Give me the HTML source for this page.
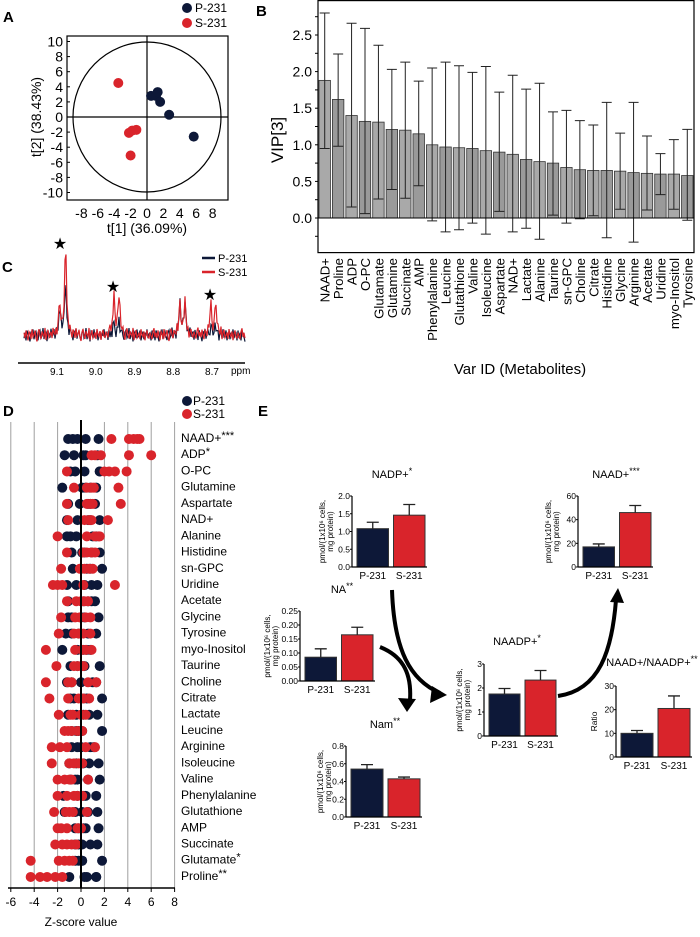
<!DOCTYPE html>
<html><head><meta charset="utf-8"><style>
html,body{margin:0;padding:0;background:#fff;width:700px;height:937px;overflow:hidden}
svg{display:block;font-family:"Liberation Sans",Arial,sans-serif}
</style></head><body>
<svg id="fig" width="700" height="937" viewBox="0 0 700 937" xmlns="http://www.w3.org/2000/svg">
<g id="gA"></g>
<g id="gB"></g>
<g id="gC"></g>
<g id="gD"></g>
<g id="gE"></g>
</svg>
<script>
// ---------- DATA ----------
// Panel A scores
const pcaP_t1 = [0.5, 1.1, 1.3, 1.6, 2.7, 5.7];
const pcaP_t2 = [2.8, 2.8, 3.3, 2.0, 0.3, -2.6];
const pcaS_t1 = [-3.5, -2.2, -1.8, -1.3, -2.0];
const pcaS_t2 = [4.5, -2.1, -1.8, -1.7, -5.1];
const pcaTicks = [-10,-8,-6,-4,-2,0,2,4,6,8,10];
const pcaXTicks = [-8,-6,-4,-2,0,2,4,6,8];
// Panel B VIP
const vipNames = ["NAAD+","Proline","ADP","O-PC","Glutamate","Glutamine","Succinate","AMP","Phenylalanine","Leucine","Glutathione","Valine","Isoleucine","Aspartate","NAD+","Lactate","Alanine","Taurine","sn-GPC","Choline","Citrate","Histidine","Glycine","Arginine","Acetate","Uridine","myo-Inositol","Tyrosine"];
const vipValues = [1.88,1.62,1.40,1.32,1.31,1.21,1.20,1.15,1.00,0.97,0.96,0.95,0.92,0.90,0.87,0.80,0.77,0.75,0.69,0.66,0.65,0.65,0.64,0.62,0.61,0.60,0.60,0.58];
const vipLow = [0.95,0.98,0.15,0.06,0.26,0.39,0.27,0.44,-0.04,-0.19,-0.16,-0.07,-0.22,0.09,-0.19,-0.14,-0.29,0.04,-0.07,-0.01,0.03,-0.27,0.12,-0.33,0.11,0.32,0.12,-0.03];
const vipHigh = [2.80,2.24,2.66,2.59,2.36,2.03,2.13,1.87,2.05,2.13,2.08,1.99,2.07,1.72,1.95,1.76,1.84,1.45,1.47,1.33,1.27,1.58,1.16,1.58,1.12,0.88,1.07,1.21];
const vipTicks = [0.0,0.5,1.0,1.5,2.0,2.5];
// Panel C spectrum peaks
const peakPpm = [9.093, 9.078, 8.953, 8.940, 8.783, 8.770, 8.703, 8.690];
const peakS = [30, 85, 38, 40, 30, 32, 30, 30];
const peakP = [24, 52, 12, 12, 30, 32, 8, 8];
const noiseS = [2,-3,4,-1,-5,3,1,-4,5,-2,0,4,-3,-6,2,5,-1,-4,3,0,-2,6,-5,1,4,-3,-1,2,-4,5,0,-2,3,-5,1,4,-2,-3,2,-1,-4,3,6,-2];
const noiseP = [-3,2,-5,4,1,-2,-6,3,0,5,-4,1,3,-2,-5,2,4,-3,-1,6,-4,0,2,-6,3,1,-3,5,-2,-1,4,-5,0,3,-4,2,-1,5,-3,1,2,-5,4];
const ppmTicks = [9.1, 9.0, 8.9, 8.8, 8.7];
// Panel D z-scores
const zNames = ["NAAD+","ADP","O-PC","Glutamine","Aspartate","NAD+","Alanine","Histidine","sn-GPC","Uridine","Acetate","Glycine","Tyrosine","myo-Inositol","Taurine","Choline","Citrate","Lactate","Leucine","Arginine","Isoleucine","Valine","Phenylalanine","Glutathione","AMP","Succinate","Glutamate","Proline"];
const zStars = ["***","*","","","","","","","","","","","","","","","","","","","","","","","","","*","**"];
const zP = [[-1.1,-0.7,-0.3,0.4,1.5],[-1.4,-0.6,0.2,0.4,1.4],[-0.9,-0.5,0.3,1.6,1.6],[-1.6,0.1,0.4,0.8,1.3],[-1.1,-0.1,0.6,0.8,1.2],[-1.2,-0.3,0.6,0.8,1.6],[-1.2,-0.9,-0.4,1.0,1.3],[-0.8,0.1,0.3,0.9,1.6],[-0.7,0.0,0.5,0.8,1.8],[-1.2,-0.4,0.3,0.9,1.4],[-1.1,0.2,0.6,0.9,1.2],[-1.1,-0.8,0.0,0.3,1.5],[-1.3,-0.8,-0.2,0.6,1.3],[-1.6,-0.3,0.2,0.5,0.8],[-0.9,-0.3,0.1,0.3,1.6],[-1.2,-0.8,0.0,1.0,1.3],[-0.9,-0.6,0.2,0.5,1.8],[-1.1,-0.4,0.2,0.7,1.4],[-0.8,-0.4,-0.2,0.1,1.8],[-0.8,-0.3,0.0,0.8,1.1],[-1.0,-0.4,0.2,0.7,1.5],[-0.9,-0.5,-0.3,0.6,1.6],[-1.5,-0.3,0.2,0.4,1.3],[-1.4,-0.5,0.1,0.6,1.4],[-0.5,-0.2,0.2,0.4,1.5],[-0.5,-0.2,0.1,0.8,1.4],[-0.5,-0.2,0.1,0.1,1.8],[-1.0,0.3,0.5,1.3,1.3]];
const zS = [[2.6,4.1,4.5,4.8,5.0],[0.9,1.2,1.7,4.1,6.0],[-1.2,2.0,2.4,2.9,3.9],[-0.6,0.5,0.9,1.1,3.2],[-1.2,0.5,0.8,1.0,3.4],[-1.1,0.3,0.7,0.9,2.3],[-2.0,0.5,1.2,1.5,1.6],[-1.2,0.2,0.5,0.9,1.2],[-1.7,-0.1,0.3,0.7,1.0],[-2.4,-2.0,-1.6,0.2,2.9],[-1.2,-0.4,0.0,0.3,0.6],[-1.7,-0.5,-0.1,0.4,0.8],[-1.9,-0.6,-0.2,0.2,0.8],[-3.0,-0.5,0.1,0.4,0.9],[-2.1,-0.6,-0.3,0.0,0.2],[-3.0,-1.1,-0.8,0.6,1.3],[-2.7,-1.1,-0.2,0.2,0.7],[-1.9,-0.9,-0.7,0.0,0.4],[-1.4,-1.1,-0.8,-0.3,0.1],[-2.5,-1.8,-1.2,0.4,1.2],[-2.5,-1.0,-0.6,-0.2,0.1],[-2.0,-1.4,-1.0,-0.8,0.6],[-2.0,-1.2,-0.6,-0.3,0.1],[-2.3,-1.3,-1.0,-0.7,0.5],[-2.0,-1.7,-1.2,-0.3,0.0],[-2.2,-1.6,-1.2,-0.8,-0.4],[-4.3,-1.9,-1.4,-1.0,-0.7],[-4.3,-3.5,-2.9,-2.2,-1.6]];
const zTicks = [-6,-4,-2,0,2,4,6,8];
// Panel E bar charts
const eTitles = ["NADP+","NAAD+","NA","NAADP+","NAAD+/NAADP+","Nam"];
const eStars = ["*","***","**","*","**","**"];
const eMeanP = [1.08, 17, 0.085, 1.75, 10, 0.54];
const eMeanS = [1.46, 46, 0.165, 2.33, 20.5, 0.43];
const eErrP = [0.18, 2.5, 0.03, 0.23, 1.2, 0.05];
const eErrS = [0.30, 6, 0.027, 0.40, 5.3, 0.02];
const eMax = [2.0, 60, 0.25, 3, 30, 0.8];
const eTickLabels = [["0.0","0.5","1.0","1.5","2.0"],["0","20","40","60"],["0.00","0.05","0.10","0.15","0.20","0.25"],["0","1","2","3"],["0","10","20","30"],["0.0","0.2","0.4","0.6","0.8"]];
const eGroups = ["P-231","S-231"];

// ---------- helpers ----------
const NS="http://www.w3.org/2000/svg";
function mk(parent,tag,attrs,text){const e=document.createElementNS(NS,tag);for(const k in attrs)e.setAttribute(k,attrs[k]);if(text!==undefined)e.textContent=text;parent.appendChild(e);return e;}
const NAVY="#0d1838", RED="#d9242b";

// ---------- Panel A ----------
(function(){
const g=document.getElementById('gA');
const cx=147, cy=117, kx=8.2, ky=7.55;
const X=v=>cx+v*kx, Y=v=>cy-v*ky;
let t=mk(g,'text',{x:3,y:22,'font-size':15,'font-weight':'bold'},'A');

let r=mk(g,'rect',{x:67,y:36,width:161,height:164,fill:'none',stroke:'#000','stroke-width':1.2});

let c=mk(g,'ellipse',{cx:cx,cy:cy,rx:74,ry:75,fill:'none',stroke:'#000','stroke-width':1.2});

mk(g,'line',{x1:67,y1:cy,x2:228,y2:cy,stroke:'#000','stroke-width':1.2});
mk(g,'line',{x1:cx,y1:36,x2:cx,y2:200,stroke:'#000','stroke-width':1.2});
pcaTicks.forEach(v=>{t=mk(g,'text',{x:63,y:Y(v)+5,'font-size':14,'text-anchor':'end'},String(v));

mk(g,'line',{x1:67,y1:Y(v),x2:70,y2:Y(v),stroke:'#000'});});
pcaXTicks.forEach(v=>{t=mk(g,'text',{x:X(v),y:218,'font-size':14,'text-anchor':'middle'},String(v));
});
t=mk(g,'text',{x:0,y:0,'font-size':14,'text-anchor':'middle',transform:'translate(41,117) rotate(-90)'},'t[2] (38.43%)');

t=mk(g,'text',{x:147,y:233,'font-size':14,'text-anchor':'middle'},'t[1] (36.09%)');

pcaP_t1.forEach((v,i)=>{const d=mk(g,'circle',{cx:X(v),cy:Y(pcaP_t2[i]),r:5,fill:NAVY});
});
pcaS_t1.forEach((v,i)=>{const d=mk(g,'circle',{cx:X(v),cy:Y(pcaS_t2[i]),r:5,fill:RED});
});
let l=mk(g,'circle',{cx:187,cy:8,r:5,fill:NAVY});
t=mk(g,'text',{x:195,y:12,'font-size':12},'P-231');
l=mk(g,'circle',{cx:187,cy:23,r:5,fill:RED});
t=mk(g,'text',{x:195,y:27,'font-size':12},'S-231');
})();

// ---------- Panel B ----------
(function(){
const g=document.getElementById('gB');
const x0=318,x1=694,y0=218,k=73.2;
const Y=v=>y0-v*k; const bw=(x1-x0)/vipNames.length;
let t=mk(g,'text',{x:256,y:16,'font-size':15,'font-weight':'bold'},'B');

let r=mk(g,'rect',{x:x0,y:0.6,width:x1-x0,height:252,fill:'none',stroke:'#000','stroke-width':1.2});

vipTicks.forEach(v=>{t=mk(g,'text',{x:312,y:Y(v)+5,'font-size':14,'text-anchor':'end'},v.toFixed(1));
});
for(let v=-0.25;v<=2.75;v+=0.25){mk(g,'line',{x1:x0-3,y1:Y(v),x2:x0,y2:Y(v),stroke:'#000'});}
t=mk(g,'text',{x:0,y:0,'font-size':17,'text-anchor':'middle',transform:'translate(283,140) rotate(-90)'},'VIP[3]');

vipNames.forEach((n,i)=>{
 const bx=x0+i*bw+1, v=vipValues[i];
 const b=mk(g,'rect',{x:bx,y:Y(v),width:bw-2,height:Y(0)-Y(v),fill:i%2?'#9a9a9a':'#a9a9a9',stroke:'#333','stroke-width':0.8});
 
 const cxm=bx+(bw-2)/2;
 const e=mk(g,'path',{d:`M${cxm},${Y(vipLow[i])}V${Y(vipHigh[i])}M${cxm-5},${Y(vipHigh[i])}h10M${cxm-5},${Y(vipLow[i])}h10`,stroke:'#222','stroke-width':1,fill:'none'});
 
 t=mk(g,'text',{x:0,y:0,'font-size':13.2,'text-anchor':'end',transform:`translate(${cxm+5},258) rotate(-90)`},n);
 
});
mk(g,'line',{x1:x0,y1:Y(0),x2:x1,y2:Y(0),stroke:'#000','stroke-width':1});
t=mk(g,'text',{x:520,y:374,'font-size':15,'text-anchor':'middle'},'Var ID (Metabolites)');

})();

// ---------- Panel C ----------
(function(){
const g=document.getElementById('gC');
const X=p=>57+(9.1-p)*387.5, base=335;
let t=mk(g,'text',{x:2,y:272,'font-size':15,'font-weight':'bold'},'C');

function spec(h,noise){let d='';let j=0;for(let x=24;x<=245;x+=1){const p=9.1-(x-57)/387.5;let y=0;peakPpm.forEach((pp,i)=>{const w=0.003;y+=h[i]/(1+((p-pp)/w)**2);});y+=noise[j%noise.length]*1.1;j++;d+=(d?'L':'M')+x.toFixed(1)+','+(base-y).toFixed(1);}return d;}
let s=mk(g,'path',{d:spec(peakP,noiseP),stroke:NAVY,'stroke-width':1.2,fill:'none'});
s=mk(g,'path',{d:spec(peakS,noiseS),stroke:RED,'stroke-width':1.2,fill:'none'});
[[60,249],[113,292],[210,300]].forEach(p=>{t=mk(g,'text',{x:p[0],y:p[1],'font-size':16,'text-anchor':'middle'},'★');});
mk(g,'line',{x1:18,y1:363,x2:245,y2:363,stroke:'#000','stroke-width':1.5});
ppmTicks.forEach(v=>{t=mk(g,'text',{x:X(v),y:375,'font-size':10,'text-anchor':'middle'},v.toFixed(1));});
t=mk(g,'text',{x:231,y:374,'font-size':10},'ppm');
let l=mk(g,'line',{x1:202,y1:258,x2:215,y2:258,stroke:NAVY,'stroke-width':2.5});
t=mk(g,'text',{x:218,y:262,'font-size':11},'P-231');
l=mk(g,'line',{x1:202,y1:272,x2:215,y2:272,stroke:RED,'stroke-width':2.5});
t=mk(g,'text',{x:218,y:276,'font-size':11},'S-231');
})();

// ---------- Panel D ----------
(function(){
const g=document.getElementById('gD');
const X=v=>81+v*11.7, Y=i=>439+i*16.22;
let t=mk(g,'text',{x:3,y:416,'font-size':15,'font-weight':'bold'},'D');

zTicks.forEach(v=>{if(v!==0){const l=mk(g,'line',{x1:X(v),y1:422,x2:X(v),y2:888,stroke:'#a0a0a0','stroke-width':1});}
 mk(g,'line',{x1:X(v),y1:888,x2:X(v),y2:892,stroke:'#000'});
 t=mk(g,'text',{x:X(v),y:906,'font-size':12,'text-anchor':'middle'},String(v));});
zNames.forEach((n,i)=>{
 zP[i].forEach(v=>{const d=mk(g,'circle',{cx:X(v),cy:Y(i),r:5,fill:NAVY});});
 zS[i].forEach(v=>{const d=mk(g,'circle',{cx:X(v),cy:Y(i),r:5,fill:RED});});
 t=mk(g,'text',{x:181,y:Y(i)+3,'font-size':12},n);
 if(zStars[i]){mk(t,'tspan',{'font-size':11,dy:-3},zStars[i]);}
});
mk(g,'line',{x1:X(0),y1:420,x2:X(0),y2:888,stroke:'#000','stroke-width':2});
mk(g,'line',{x1:8,y1:888,x2:175,y2:888,stroke:'#000','stroke-width':1.5});
t=mk(g,'text',{x:81,y:926,'font-size':12,'text-anchor':'middle'},'Z-score value');
let l=mk(g,'circle',{cx:187,cy:401,r:5,fill:NAVY});
t=mk(g,'text',{x:193,y:405,'font-size':12},'P-231');
l=mk(g,'circle',{cx:187,cy:414,r:5,fill:RED});
t=mk(g,'text',{x:193,y:418,'font-size':12},'S-231');
})();

// ---------- Panel E ----------
(function(){
const g=document.getElementById('gE');
let t=mk(g,'text',{x:258,y:416,'font-size':15,'font-weight':'bold'},'E');

const lay=[[352,496,567,427,392,478,325],[578,496,567,653,616,478,551],[300,611,681,375,342,593,270],[484,664,736,558,517,645,462],[616,686,757,692,652,666,597],[346,746,817,422,385,728,323]];
eTitles.forEach((name,i)=>{
 const [ax,yt,yb,xe,tx,ty,ytx]=lay[i];
 const sg=mk(g,'g',{});
 const Y=v=>yb-(v/eMax[i])*(yb-yt);
 const bw=(xe-ax-12)/2;
 [eMeanP[i],eMeanS[i]].forEach((m,j)=>{
  const bx=ax+5+j*(bw+5);const err=j?eErrS[i]:eErrP[i];
  const b=mk(sg,'rect',{x:bx,y:Y(m),width:bw,height:yb-Y(m),fill:j?RED:NAVY,stroke:'#333','stroke-width':1});
  
  const c=bx+bw/2;
  const e=mk(sg,'path',{d:`M${c},${Y(m)}V${Y(m+err)}M${c-6},${Y(m+err)}h12`,stroke:'#222','stroke-width':1.3,fill:'none'});
  
  t=mk(sg,'text',{x:c,y:yb+12,'font-size':10,'text-anchor':'middle'},eGroups[j]);
 });
 mk(sg,'line',{x1:ax,y1:yt,x2:ax,y2:yb,stroke:'#000','stroke-width':1.2});
 mk(sg,'line',{x1:ax,y1:yb,x2:xe,y2:yb,stroke:'#000','stroke-width':1.2});
 eTickLabels[i].forEach(lbl=>{const v=parseFloat(lbl);mk(sg,'line',{x1:ax-2,y1:Y(v),x2:ax,y2:Y(v),stroke:'#000'});
  t=mk(sg,'text',{x:ax-2,y:Y(v)+3,'font-size':8.5,'text-anchor':'end'},lbl);});
 t=mk(sg,'text',{x:tx,y:ty,'font-size':11,'text-anchor':'middle'},name);
 mk(t,'tspan',{'font-size':9,dy:-4},eStars[i]);
 const mid=(yt+yb)/2;
 if(i===4){t=mk(sg,'text',{x:0,y:0,'font-size':8.5,'text-anchor':'middle',transform:`translate(${ytx},${mid}) rotate(-90)`},'Ratio');}
 else{t=mk(sg,'text',{x:0,y:0,'font-size':8,'text-anchor':'middle',transform:`translate(${ytx},${mid}) rotate(-90)`});
  mk(t,'tspan',{x:0,dy:0},'pmol/(1x10⁶ cells,');mk(t,'tspan',{x:0,dy:8},'mg protein)');}
 
});
const arrows=[["M392,590 C394,650 410,680 440,693","447,695 432,686 430,703","arrow-nadp-to-naadp"],
["M380,647 C400,655 412,670 410,700","407,712 398,698 416,699","arrow-na-to-nam"],
["M558,696 C600,690 612,650 616,600","618,588 610,602 624,603","arrow-naadp-to-naad"]];
arrows.forEach(a=>{const p=mk(g,'path',{d:a[0],stroke:'#000','stroke-width':4,fill:'none'});
 const h=mk(g,'polygon',{points:a[1],fill:'#000'});});
})();
</script>
</body></html>
